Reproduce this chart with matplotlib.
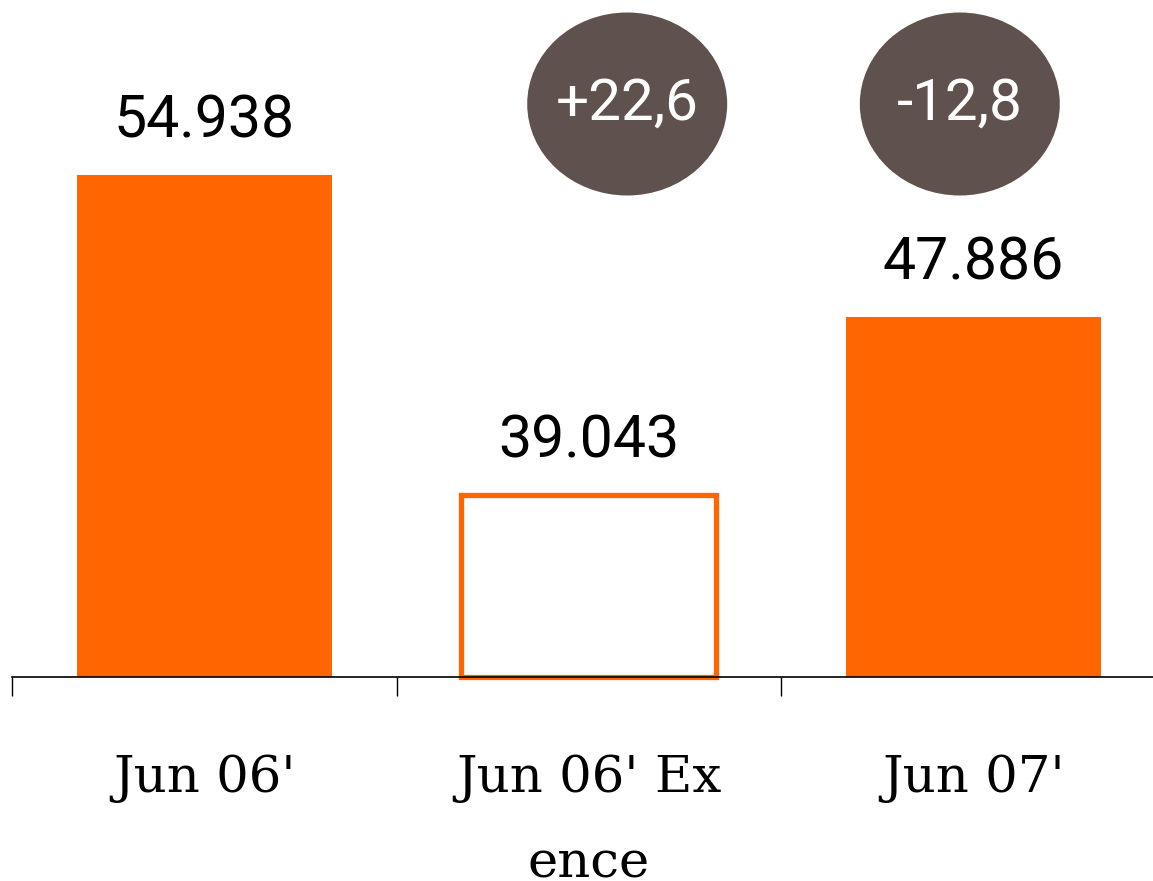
import matplotlib
matplotlib.use('Agg')
import matplotlib.pyplot as plt
from matplotlib.patches import Ellipse

# data
categories = ["Jun 06'", "Jun 06' Ex\nence", "Jun 07'"]
values = [54.938, 39.043, 47.886]
value_labels = ['54.938', '39.043', '47.886']
hollow = [False, True, False]
changes = ['+22,6', '-12,8']
change_pos = [1.10, 1.965]   # x position of the change bubbles

orange = '#FF6600'
bubble = '#5F524E'

fig = plt.figure(figsize=(11.53, 8.81), dpi=100)
# axes: baseline at y=677px, left at 12px, one category = 384.5px
ax = fig.add_axes([12 / 1153, 204 / 881, 1153.5 / 1153, 677 / 881])
px_per_unit = 20.13
ax.set_xlim(-0.5, 2.5)
ax.set_ylim(30, 30 + 677 / px_per_unit)

x = range(len(values))
for i, v in enumerate(values):
    if hollow[i]:
        ax.bar(i, v - 30, bottom=30, width=0.663, facecolor='white',
               edgecolor=orange, linewidth=3.8, zorder=3, clip_on=False)
    else:
        ax.bar(i, v - 30, bottom=30, width=0.663, color=orange, zorder=2)
    ax.annotate(value_labels[i], (i, v), xytext=(0, 37), textcoords='offset pixels',
                ha='center', va='baseline', fontsize=42.5, family='Roboto',
                color='black', annotation_clip=False)

# change bubbles
for xp, txt in zip(change_pos, changes):
    yc = 30 + (677 - 104) / px_per_unit
    ell = Ellipse((xp, yc), width=200 / 384.5, height=183 / px_per_unit,
                  facecolor=bubble, edgecolor='none', clip_on=False, zorder=4)
    ax.add_patch(ell)
    ax.text(xp, yc, txt, ha='center', va='center',
            fontsize=42, family='Roboto', color='white', zorder=5)

# axis styling
for s in ['top', 'right', 'left']:
    ax.spines[s].set_visible(False)
ax.spines['bottom'].set_linewidth(1.2)
ax.spines['bottom'].set_zorder(4)
ax.set_yticks([])
ax.set_xticks(list(x))
ax.set_xticklabels(categories, fontsize=37, family='DejaVu Serif', linespacing=1.93,
                   va='top')
ax.tick_params(axis='x', which='major', length=0, pad=55)
ax.set_xticks([-0.5, 0.5, 1.5, 2.5], minor=True)
ax.tick_params(axis='x', which='minor', length=14, width=1.0, direction='out')

fig.savefig('out.png', dpi=100, facecolor='white')
